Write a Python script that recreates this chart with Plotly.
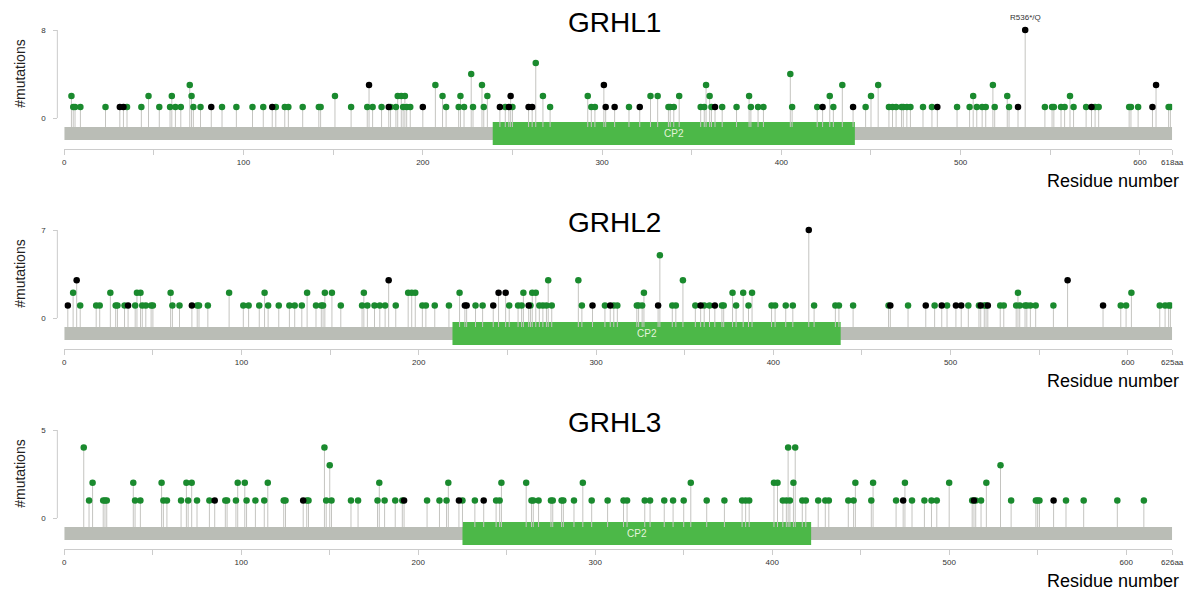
import plotly.graph_objects as go

# ---------------- data ----------------
genes = ["GRHL1", "GRHL2", "GRHL3"]
protein_lengths = [618, 625, 626]
max_counts = [8, 7, 5]
domain_names = ["CP2", "CP2", "CP2"]
domain_starts = [239, 219, 225]
domain_ends = [441, 438, 422]

# GRHL1
grhl1_missense_pos = [4, 5, 6, 9, 23, 35, 43, 47, 53, 59, 60, 62, 65, 70, 71, 72, 76, 88, 96, 105,
                      111, 118, 123, 125, 133, 142, 143, 151, 160, 169, 172, 177, 182, 185, 186, 188,
                      189, 190, 191, 193, 207, 211, 213, 220, 221, 223, 227, 228, 233, 234, 236, 246,
                      250, 263, 267, 271, 292, 294, 296, 315, 327, 331, 337, 338, 340, 343, 355, 357,
                      358, 360, 361, 367, 375, 382, 383, 387, 390, 405, 406, 420, 427, 429, 434, 447,
                      450, 454, 460, 462, 464, 467, 468, 470, 472, 479, 484, 498, 505, 507, 509, 512,
                      514, 518, 519, 526, 527, 547, 551, 552, 556, 558, 561, 563, 570, 575, 577, 594,
                      595, 599, 616, 617]
grhl1_missense_cnt = [2, 1, 1, 1, 1, 1, 1, 2, 1, 1, 2, 1, 1, 3, 2, 1, 1, 1, 1, 1,
                      1, 1, 1, 1, 1, 1, 1, 2, 1, 1, 1, 1, 1, 1, 2, 2,
                      1, 2, 1, 1, 3, 2, 1, 1, 2, 1, 4, 1, 3, 1, 2, 1,
                      1, 5, 2, 1, 2, 1, 1, 1, 2, 2, 1, 1, 1, 2, 1, 1,
                      3, 2, 1, 1, 1, 2, 1, 1, 1, 4, 1, 1, 2, 1, 3, 1,
                      2, 3, 1, 1, 1, 1, 1, 1, 1, 1, 1, 1, 1, 2, 1, 1,
                      1, 3, 1, 2, 1, 1, 1, 1, 1, 1, 2, 1, 1, 1, 1, 1,
                      1, 1, 1, 1]
grhl1_trunc_pos = [31, 33, 82, 116, 170, 181, 200, 243, 248, 249, 259, 261, 301, 302, 307, 321, 363,
                   423, 440, 487, 532, 536, 573, 607, 609]
grhl1_trunc_cnt = [1, 1, 1, 1, 3, 1, 1, 1, 1, 2, 1, 1, 3, 1, 1, 1, 1,
                   1, 1, 1, 1, 8, 1, 1, 3]

# GRHL2
grhl2_missense_pos = [5, 9, 18, 20, 26, 29, 30, 34, 40, 41, 43, 44, 46, 49, 50, 60, 61, 65, 75, 76,
                      81, 93, 101, 104, 110, 113, 115, 121, 127, 130, 134, 137, 142, 145, 146, 147,
                      151, 156, 168, 169, 171, 175, 178, 181, 187, 194, 196, 198, 202, 204, 209, 217,
                      223, 232, 236, 251, 256, 258, 259, 263, 264, 266, 268, 270, 272, 273, 275, 290,
                      292, 305, 310, 312, 323, 324, 326, 327, 336, 343, 345, 349, 356, 361, 364, 371,
                      372, 377, 379, 383, 386, 388, 399, 401, 407, 411, 423, 435, 437, 445, 465, 476,
                      491, 498, 510, 516, 519, 520, 528, 530, 537, 538, 539, 542, 543, 545, 548, 558,
                      596, 599, 602, 618, 621, 623, 624]
grhl2_missense_cnt = [2, 1, 1, 1, 2, 1, 1, 1, 1, 2, 2, 1, 1, 1, 1, 2, 1, 1, 1, 1,
                      1, 2, 1, 1, 1, 2, 1, 1, 1, 1, 1, 2, 1, 1, 1, 2,
                      2, 1, 1, 2, 1, 1, 1, 1, 1, 2, 2, 2, 1, 1, 1, 1,
                      2, 1, 1, 1, 1, 1, 2, 1, 2, 2, 1, 1, 1, 3, 1, 3,
                      1, 1, 1, 1, 1, 1, 1, 2, 5, 1, 1, 3, 1, 1, 1, 1,
                      1, 2, 1, 2, 1, 2, 1, 1, 1, 1, 1, 1, 1, 1, 1, 1,
                      1, 1, 1, 1, 1, 1, 1, 1, 1, 2, 1, 1, 1, 1, 1, 1,
                      1, 1, 2, 1, 1, 1, 1]
grhl2_trunc_pos = [2, 7, 36, 72, 183, 226, 227, 242, 245, 249, 262, 298, 308, 335, 359, 367, 420,
                   466, 486, 495, 503, 506, 517, 521, 566, 586]
grhl2_trunc_cnt = [1, 3, 1, 1, 3, 1, 1, 1, 2, 2, 1, 1, 1, 1, 1, 1, 7,
                   1, 1, 1, 1, 1, 1, 1, 3, 1]

# GRHL3
grhl3_missense_pos = [11, 14, 16, 22, 23, 24, 39, 40, 43, 55, 56, 58, 66, 69, 70, 72, 75, 82, 91, 92,
                      97, 98, 102, 103, 108, 113, 115, 124, 125, 137, 138, 147, 148, 150, 151, 162,
                      166, 177, 178, 181, 187, 191, 205, 212, 216, 217, 225, 232, 244, 246, 247, 261,
                      264, 265, 268, 275, 276, 281, 282, 288, 293, 298, 307, 316, 318, 328, 331, 339,
                      344, 350, 354, 363, 373, 383, 385, 387, 401, 403, 406, 408, 409, 410, 412, 413,
                      417, 419, 426, 430, 432, 443, 446, 447, 456, 457, 470, 475, 479, 486, 490, 493,
                      500, 513, 515, 518, 521, 529, 535, 549, 550, 551, 566, 576, 595, 610]
grhl3_missense_cnt = [4, 1, 2, 1, 1, 1, 2, 1, 1, 2, 1, 1, 1, 2, 1, 2, 1, 1, 1, 1,
                      1, 2, 2, 1, 1, 1, 2, 1, 1, 1, 1, 4, 1, 3, 1, 1,
                      1, 1, 2, 1, 1, 1, 1, 1, 1, 2, 1, 1, 1, 1, 2, 2,
                      1, 1, 1, 1, 1, 1, 1, 1, 2, 1, 1, 1, 1, 1, 1, 1,
                      1, 1, 2, 1, 1, 1, 1, 1, 2, 2, 1, 1, 4, 1, 2, 4,
                      1, 1, 1, 1, 1, 1, 1, 2, 1, 2, 1, 2, 1, 1, 1, 1,
                      2, 1, 1, 1, 2, 3, 1, 1, 1, 1, 1, 1, 1, 1]
grhl3_trunc_pos = [85, 135, 192, 223, 237, 474, 514, 559]
grhl3_trunc_cnt = [1, 1, 1, 1, 1, 1, 1, 1]

missense_pos = [grhl1_missense_pos, grhl2_missense_pos, grhl3_missense_pos]
missense_cnt = [grhl1_missense_cnt, grhl2_missense_cnt, grhl3_missense_cnt]
trunc_pos = [grhl1_trunc_pos, grhl2_trunc_pos, grhl3_trunc_pos]
trunc_cnt = [grhl1_trunc_cnt, grhl2_trunc_cnt, grhl3_trunc_cnt]

highlight_gene = 0
highlight_pos = 536
highlight_label = "R536*/Q"

# ---------------- style / layout ----------------
W, H = 1199, 592
FONT = "Liberation Sans, Arial, sans-serif"
GREEN_DOT = "#1a8a2e"
BLACK_DOT = "#000000"
STEM = "#c4c4c0"
BAR = "#babdb6"
DOMAIN = "#4cb848"
AXIS = "#cccccc"

X_LEFT, X_RIGHT = 63, 1184
ZERO_Y = [118, 318, 518]      # pixel row of count 0 in each panel
PX_MAX = 88                   # pixels from 0 to the max tick
TOP_PAD, BOT_PAD = 93, 31     # plot area extent above / below zero
BAR_TOP, BAR_BOT = 9, 22
DOM_TOP, DOM_BOT = 4, 27
YLINE_X = 56

fig = go.Figure()
shapes = []
annotations = []
layout_axes = {}

for i, gene in enumerate(genes):
    n = "" if i == 0 else str(i + 1)
    xa, ya = "x" + n, "y" + n
    unit = PX_MAX / max_counts[i]          # pixels per mutation
    y0 = ZERO_Y[i]
    ymin, ymax = -BOT_PAD / unit, TOP_PAD / unit
    base = -BAR_TOP / unit

    # stems
    sx, sy = [], []
    for p, c in list(zip(missense_pos[i], missense_cnt[i])) + list(zip(trunc_pos[i], trunc_cnt[i])):
        sx += [p, p, None]
        sy += [base, c, None]
    fig.add_trace(go.Scatter(x=sx, y=sy, mode="lines", line=dict(color=STEM, width=1),
                             xaxis=xa, yaxis=ya, hoverinfo="skip", showlegend=False))
    fig.add_trace(go.Scatter(x=missense_pos[i], y=missense_cnt[i], mode="markers",
                             marker=dict(color=GREEN_DOT, size=6.5, line=dict(width=0)),
                             xaxis=xa, yaxis=ya, name="Missense", showlegend=False))
    fig.add_trace(go.Scatter(x=trunc_pos[i], y=trunc_cnt[i], mode="markers",
                             marker=dict(color=BLACK_DOT, size=6.5, line=dict(width=0)),
                             xaxis=xa, yaxis=ya, name="Truncating", showlegend=False))

    # protein backbone + domain
    shapes.append(dict(type="rect", xref=xa, yref=ya, x0=0, x1=protein_lengths[i],
                       y0=-BAR_BOT / unit, y1=-BAR_TOP / unit,
                       fillcolor=BAR, line=dict(width=0), layer="below"))
    shapes.append(dict(type="rect", xref=xa, yref=ya, x0=domain_starts[i], x1=domain_ends[i],
                       y0=-DOM_BOT / unit, y1=-DOM_TOP / unit,
                       fillcolor=DOMAIN, line=dict(width=0), layer="below"))
    annotations.append(dict(x=(domain_starts[i] + domain_ends[i]) / 2, y=-(BAR_TOP + BAR_BOT) / 2 / unit,
                            xref=xa, yref=ya, text=domain_names[i], showarrow=False,
                            font=dict(family=FONT, size=10, color="#e4f4dc")))
    # y axis line from 0 to max
    shapes.append(dict(type="line", xref="paper", yref=ya, x0=YLINE_X / W, x1=YLINE_X / W,
                       y0=0, y1=max_counts[i], line=dict(color=AXIS, width=1)))

    # titles / labels
    annotations.append(dict(x=620 / W, y=1 - (y0 - 96) / H, xref="paper", yref="paper",
                            text=gene, showarrow=False, xanchor="center", yanchor="middle",
                            font=dict(family=FONT, size=28, color="#000000")))
    annotations.append(dict(x=1193 / W, y=1 - (y0 + 63) / H, xref="paper", yref="paper",
                            text="Residue number", showarrow=False, xanchor="right", yanchor="middle",
                            font=dict(family=FONT, size=18, color="#000000")))
    annotations.append(dict(x=18 / W, y=1 - (y0 - 44) / H, xref="paper", yref="paper",
                            text="#mutations", showarrow=False, textangle=-90,
                            xanchor="center", yanchor="middle",
                            font=dict(family=FONT, size=14, color="#222222")))

    L = protein_lengths[i]
    tickvals = list(range(0, L, 50)) + [L]
    ticktext = [str(v) if v % 100 == 0 else "" for v in range(0, L, 50)] + [f"{L}aa"]
    layout_axes["xaxis" + n] = dict(domain=[X_LEFT / W, X_RIGHT / W], anchor=ya, range=[0, L],
                                    showgrid=False, zeroline=False, showline=True, linecolor=AXIS,
                                    linewidth=1, ticks="outside", ticklen=5, tickcolor=AXIS,
                                    tickvals=tickvals, ticktext=ticktext,
                                    tickfont=dict(family=FONT, size=8, color="#333333"),
                                    fixedrange=True)
    layout_axes["yaxis" + n] = dict(domain=[1 - (y0 + BOT_PAD) / H, 1 - (y0 - TOP_PAD) / H],
                                    anchor="free", position=YLINE_X / W, range=[ymin, ymax],
                                    showgrid=False, zeroline=False, showline=False,
                                    tickvals=[0, max_counts[i]], ticktext=["0", str(max_counts[i])],
                                    ticks="outside", ticklen=4, tickcolor=AXIS,
                                    ticklabelstandoff=6,
                                    tickfont=dict(family=FONT, size=8, color="#333333"),
                                    fixedrange=True)

# label for the hotspot
hp_idx = trunc_pos[highlight_gene].index(highlight_pos)
annotations.append(dict(x=highlight_pos, y=trunc_cnt[highlight_gene][hp_idx], xref="x", yref="y",
                        text=highlight_label, showarrow=False, yshift=12,
                        font=dict(family=FONT, size=8, color="#333333")))

fig.update_layout(width=W, height=H, autosize=False, margin=dict(l=0, r=0, t=0, b=0, pad=0),
                  paper_bgcolor="white", plot_bgcolor="white",
                  shapes=shapes, annotations=annotations, showlegend=False,
                  **layout_axes)

fig.write_html("out.html", config={"displayModeBar": False},
               post_script="document.body.style.margin='0';document.body.style.overflow='hidden';")
